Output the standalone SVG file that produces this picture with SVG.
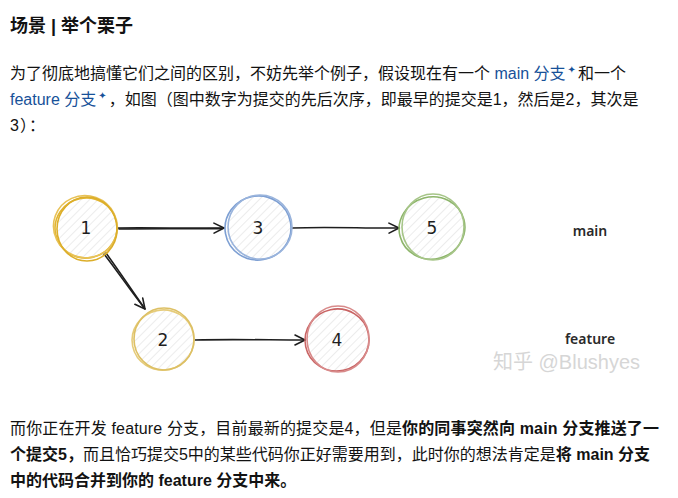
<svg xmlns="http://www.w3.org/2000/svg" width="678" height="498" viewBox="0 0 678 498">
  <style>
    .t { font-family: "Liberation Sans", "Noto Sans CJK SC", sans-serif; font-size: 16px; fill: #121212; }
    .h { font-family: "Liberation Sans", "Noto Sans CJK SC", sans-serif; font-size: 18px; font-weight: bold; fill: #121212; }
    .b { font-weight: bold; }
    .lk { fill: #175199; }
    .sup { font-family: "DejaVu Sans", sans-serif; font-size: 10px; fill: #175199; }
    .num { font-family: "DejaVu Sans", sans-serif; font-size: 17px; fill: #1e1e1e; text-anchor: middle; }
    .lbl { font-family: "Noto Sans", "DejaVu Sans", sans-serif; font-size: 14px; font-weight: 600; fill: #2a2a2a; text-anchor: middle; }
    .wm { font-family: "Liberation Sans", "Noto Sans CJK SC", sans-serif; font-size: 20px; fill: #d6d6d6; }
    .ring { fill: none; stroke-width: 1.6; }
    .edge { fill: none; stroke: #1e1e1e; stroke-width: 1.6; stroke-linecap: round; }
  </style>
  <defs>
    <pattern id="hatch" patternUnits="userSpaceOnUse" width="6" height="6" patternTransform="rotate(45)">
      <line x1="0" y1="0" x2="0" y2="6" stroke="#dadada" stroke-width="1"/>
    </pattern>
    <marker id="arr" markerUnits="userSpaceOnUse" markerWidth="14" markerHeight="14" refX="11" refY="6" orient="auto">
      <path d="M1,1 L11,6 L1,11" fill="none" stroke="#1e1e1e" stroke-width="1.6" stroke-linejoin="round" stroke-linecap="round"/>
    </marker>
  </defs>

  <rect x="0" y="0" width="678" height="498" fill="#ffffff"/>

  <!-- heading -->
  <text class="h" x="10" y="32">场景 | 举个栗子</text>

  <!-- intro paragraph -->
  <text class="t" x="10" y="79">为了彻底地搞懂它们之间的区别，不妨先举个例子，假设现在有一个 <tspan class="lk">main 分支</tspan><tspan class="sup" dx="2" dy="-6">✦</tspan><tspan dx="2" dy="6">和一个</tspan></text>
  <text class="t" x="10" y="105"><tspan class="lk">feature 分支</tspan><tspan class="sup" dx="2" dy="-6">✦</tspan><tspan dx="2" dy="6">，如图（图中数字为提交的先后次序，即最早的提交是1，然后是2，其次是</tspan></text>
  <text class="t" x="10" y="131" letter-spacing="1">3）：</text>

  <!-- connectors -->
  <g id="connectors">
    <path class="edge" d="M118,228 C150,227.5 190,228.5 224,228" marker-end="url(#arr)"/>
    <path class="edge" d="M119,229 C155,228.5 190,229 222,228.6" stroke-width="0.8"/>
    <path class="edge" d="M292,228 C330,226.5 365,228.5 399,228" marker-end="url(#arr)"/>
    <path class="edge" d="M104,254 C118,272 130,290 145,309" marker-end="url(#arr)"/>
    <path class="edge" d="M106,253 C119,271 131,289 143,306" stroke-width="0.9"/>
    <path class="edge" d="M195,340 C230,339 270,340 305,340" marker-end="url(#arr)"/>
  </g>

  <!-- nodes -->
  <g id="node-1">
    <circle cx="86" cy="228" r="31" fill="url(#hatch)"/>
    <ellipse class="ring" cx="86" cy="228" rx="31" ry="30" stroke="#e2b530" transform="rotate(-12 86 228)"/>
    <ellipse class="ring" cx="85" cy="227" rx="32" ry="31" stroke="#e8c257" transform="rotate(20 86 228)"/>
    <ellipse class="ring" cx="87" cy="229" rx="30" ry="32" stroke="#dcae2a" stroke-width="1.1"/>
    <text class="num" x="86" y="234">1</text>
  </g>
  <g id="node-3">
    <circle cx="258" cy="228" r="32" fill="url(#hatch)"/>
    <ellipse class="ring" cx="258" cy="228" rx="33" ry="32" stroke="#7d9fd3" transform="rotate(-10 258 228)"/>
    <ellipse class="ring" cx="260" cy="227" rx="32" ry="32" stroke="#9ab4dc" stroke-width="1.1"/>
    <text class="num" x="258" y="234">3</text>
  </g>
  <g id="node-5">
    <circle cx="432" cy="228" r="32" fill="url(#hatch)"/>
    <ellipse class="ring" cx="432" cy="228" rx="33" ry="31" stroke="#8db56a" transform="rotate(-15 432 228)"/>
    <ellipse class="ring" cx="433" cy="227" rx="31" ry="33" stroke="#a6c588" stroke-width="1.1"/>
    <text class="num" x="432" y="234">5</text>
  </g>
  <g id="node-2">
    <circle cx="163" cy="340" r="30" fill="url(#hatch)"/>
    <ellipse class="ring" cx="163" cy="340" rx="31" ry="30" stroke="#e6cc7a" transform="rotate(-12 163 340)"/>
    <ellipse class="ring" cx="164" cy="339" rx="30" ry="31" stroke="#ddc065" stroke-width="1.1"/>
    <text class="num" x="163" y="346">2</text>
  </g>
  <g id="node-4">
    <circle cx="337" cy="340" r="31" fill="url(#hatch)"/>
    <ellipse class="ring" cx="337" cy="340" rx="32" ry="31" stroke="#c96464" transform="rotate(-12 337 340)"/>
    <ellipse class="ring" cx="338" cy="339" rx="31" ry="33" stroke="#d88a8a" stroke-width="1.1"/>
    <text class="num" x="337" y="346">4</text>
  </g>

  <!-- branch labels -->
  <g id="label-main"><text class="lbl" x="590" y="236">main</text></g>
  <g id="label-feature"><text class="lbl" x="590" y="344">feature</text></g>

  <!-- watermark -->
  <text class="wm" x="493" y="369">知乎 @Blushyes</text>

  <!-- closing paragraph -->
  <text class="t" x="10" y="434" textLength="649" lengthAdjust="spacing">而你正在开发 feature 分支，目前最新的提交是4，但是<tspan class="b">你的同事突然向 main 分支推送了一</tspan></text>
  <text class="t" x="10" y="460"><tspan class="b">个提交5，</tspan>而且恰巧提交5中的某些代码你正好需要用到，此时你的想法肯定是<tspan class="b">将 main 分支</tspan></text>
  <text class="t b" x="10" y="486">中的代码合并到你的 feature 分支中来。</text>
</svg>
